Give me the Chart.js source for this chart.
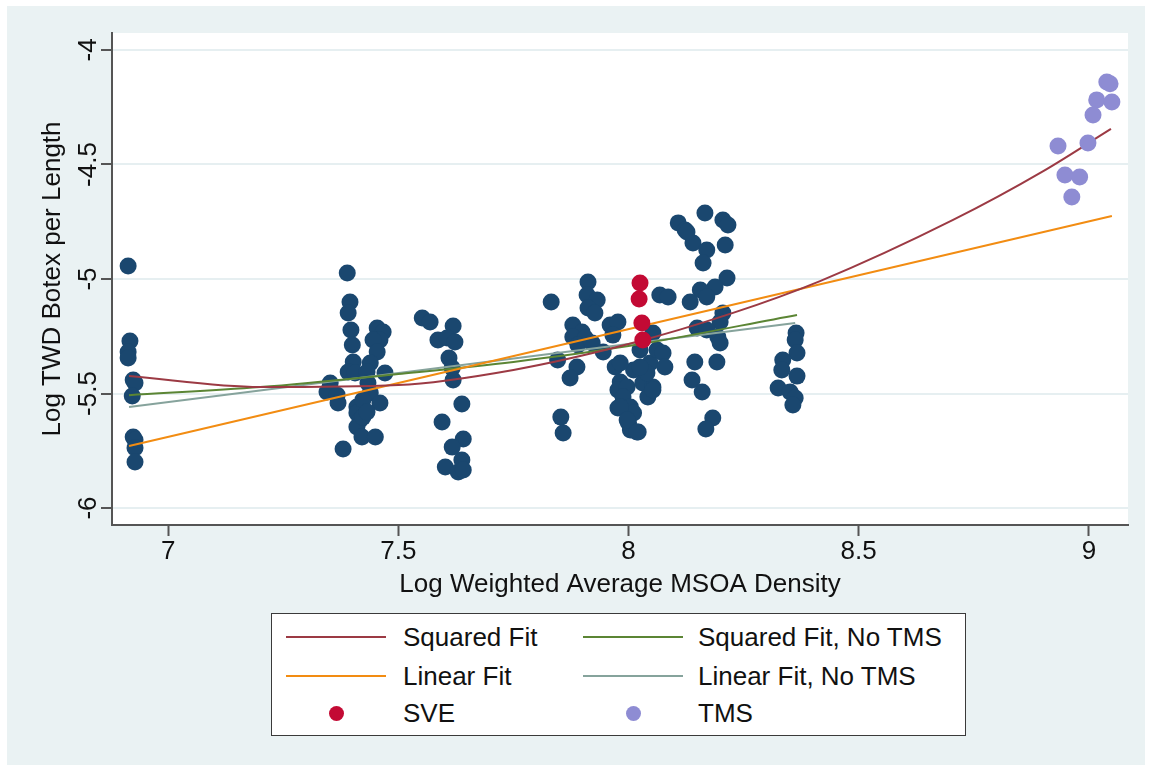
<!DOCTYPE html>
<html><head><meta charset="utf-8">
<script src="https://cdn.jsdelivr.net/npm/chart.js@4.4.1/dist/chart.umd.min.js"></script>
<style>
html,body{margin:0;padding:0;background:#fff;}
#wrap{position:relative;width:1149px;height:771px;overflow:hidden;}
#frame{position:absolute;left:7px;top:6px;width:1138px;height:759px;background:#eaf2f3;}
#c{position:absolute;left:0;top:0;}
#legend{position:absolute;left:271px;top:613px;width:693px;height:121px;border:1.5px solid #3a3a3a;background:#fff;font-family:"Liberation Sans",Arial,sans-serif;font-size:26px;color:#111;}
.lline{position:absolute;height:0;border-top:2px solid #000;}
.ldot{position:absolute;width:15px;height:15px;border-radius:50%;}
.ltxt{position:absolute;line-height:30px;white-space:nowrap;}
</style>
</head><body>
<div id="wrap"><div id="frame"></div><canvas id="c" width="1149" height="771"></canvas><div id="legend"></div></div>
<script>
// ---- data ----
const xTicks = [7, 7.5, 8, 8.5, 9];
const yTicks = [-6, -5.5, -5, -4.5, -4];

const mainX = [6.913,6.917,6.913,6.913,6.924,6.928,6.922,6.924,6.928,6.928,6.928,
7.389,7.395,7.391,7.397,7.400,7.402,7.391,7.406,7.352,7.345,7.367,7.369,7.410,7.410,7.417,7.410,7.423,7.421,7.450,7.380,7.454,7.467,7.460,7.445,7.454,7.439,7.432,7.434,7.439,7.423,7.460,7.471,7.432,
7.552,7.569,7.619,7.586,7.606,7.623,7.610,7.617,7.619,7.638,7.595,7.641,7.617,7.638,7.602,7.630,7.641,
7.832,7.912,7.910,7.932,7.912,7.927,7.879,7.899,7.879,7.906,7.890,7.921,7.960,7.977,7.966,7.945,7.846,7.888,7.873,7.971,7.982,7.977,7.997,7.988,8.004,7.977,8.011,8.000,8.021,8.004,7.853,7.858,8.011,8.031,8.053,8.047,8.062,8.053,8.025,8.042,8.040,
8.108,8.123,8.166,8.205,8.216,8.140,8.170,8.210,8.162,8.214,8.188,8.156,8.170,8.134,8.068,8.086,8.205,8.199,8.194,8.149,8.170,8.192,8.144,8.138,8.160,8.183,8.168,8.075,8.079,8.053,8.025,7.982,7.982,7.997,8.018,8.127,8.199,
8.364,8.362,8.366,8.335,8.333,8.366,8.325,8.351,8.362,8.357];
const mainY = [-4.943,-5.271,-5.319,-5.345,-5.441,-5.454,-5.511,-5.690,-5.703,-5.738,-5.799,
-4.974,-5.100,-5.148,-5.223,-5.288,-5.362,-5.406,-5.410,-5.454,-5.493,-5.507,-5.541,-5.559,-5.585,-5.616,-5.646,-5.603,-5.690,-5.690,-5.742,-5.214,-5.231,-5.266,-5.266,-5.319,-5.367,-5.406,-5.454,-5.498,-5.528,-5.541,-5.410,-5.581,
-5.170,-5.188,-5.205,-5.266,-5.258,-5.275,-5.345,-5.389,-5.441,-5.546,-5.624,-5.699,-5.734,-5.790,-5.821,-5.843,-5.834,
-5.100,-5.013,-5.070,-5.092,-5.127,-5.148,-5.201,-5.231,-5.253,-5.258,-5.288,-5.279,-5.201,-5.188,-5.245,-5.319,-5.354,-5.384,-5.432,-5.384,-5.450,-5.485,-5.472,-5.515,-5.559,-5.563,-5.585,-5.629,-5.668,-5.659,-5.603,-5.672,-5.397,-5.454,-5.472,-5.367,-5.310,-5.236,-5.310,-5.515,-5.410,
-4.755,-4.786,-4.712,-4.742,-4.764,-4.843,-4.873,-4.852,-4.930,-4.996,-5.035,-5.048,-5.079,-5.100,-5.070,-5.079,-5.148,-5.188,-5.253,-5.214,-5.223,-5.362,-5.362,-5.441,-5.493,-5.607,-5.655,-5.323,-5.384,-5.485,-5.384,-5.367,-5.559,-5.616,-5.668,-4.795,-5.279,
-5.236,-5.266,-5.323,-5.354,-5.397,-5.424,-5.476,-5.493,-5.520,-5.550];

const sveX = [8.025, 8.023, 8.029, 8.031];
const sveY = [-5.017, -5.087, -5.192, -5.266];

const tmsX = [9.039, 9.046, 9.017, 9.050, 9.009, 8.933, 8.998, 8.948, 8.980, 8.963];
const tmsY = [-4.140, -4.148, -4.218, -4.227, -4.284, -4.419, -4.406, -4.546, -4.555, -4.642];

const sqFitX = [6.915, 7.2, 7.5, 7.75, 8.0, 8.227, 8.416, 8.705, 8.9, 9.048];
const sqFitY = [-5.424, -5.472, -5.463, -5.397, -5.284, -5.148, -5.009, -4.742, -4.53, -4.345];
const linFitX = [6.915, 9.05];
const linFitY = [-5.729, -4.725];
const sqNoX = [6.915, 7.2, 7.5, 7.75, 8.0, 8.366];
const sqNoY = [-5.507, -5.472, -5.415, -5.362, -5.293, -5.157];
const linNoX = [6.915, 8.362];
const linNoY = [-5.559, -5.192];

// ---- build chart ----
const pts = (xs, ys) => xs.map((x, i) => ({x: x, y: ys[i]}));
const FONT = '"Liberation Sans", Arial, sans-serif';
const C = {navy:'#1a476f', sve:'#c30a34', tms:'#8e8cd3', sq:'#9c3a44', lin:'#f28c12', sqNo:'#5b8534', linNo:'#86a39c'};

const lineDs = (label, xs, ys, color) => ({type:'line', label, order: 1, data: pts(xs, ys), borderColor: color, backgroundColor: color,
  borderWidth: 2, pointRadius: 0, fill: false, cubicInterpolationMode: 'monotone', showLine: true});

const datasets = [
  lineDs('Squared Fit', sqFitX, sqFitY, C.sq),
  lineDs('Linear Fit', linFitX, linFitY, C.lin),
  lineDs('Squared Fit, No TMS', sqNoX, sqNoY, C.sqNo),
  lineDs('Linear Fit, No TMS', linNoX, linNoY, C.linNo),
  {label:'SVE', order: 0, data: pts(sveX, sveY), backgroundColor: C.sve, borderWidth: 0, pointRadius: 8.5},
  {label:'TMS', order: 0, data: pts(tmsX, tmsY), backgroundColor: C.tms, borderWidth: 0, pointRadius: 8.5},
  {label:'Data', order: 2, data: pts(mainX, mainY), backgroundColor: C.navy, borderWidth: 0, pointRadius: 8.5}
];

const bgPlugin = {
  id: 'bg',
  beforeDraw(chart) {
    const a = chart.chartArea, ctx = chart.ctx;
    ctx.save(); ctx.fillStyle = '#ffffff';
    ctx.fillRect(a.left, a.top, a.right - a.left, a.bottom - a.top);
    ctx.restore();
  }
};
const yLabelPlugin = {
  id: 'yLabels',
  afterDraw(chart) {
    const s = chart.scales.y, ctx = chart.ctx;
    ctx.save();
    ctx.font = '26px ' + FONT; ctx.fillStyle = '#111';
    ctx.textAlign = 'center'; ctx.textBaseline = 'middle';
    yTicks.forEach(v => {
      const py = s.getPixelForValue(v);
      ctx.save(); ctx.translate(s.right - 23, py); ctx.rotate(-Math.PI / 2);
      ctx.fillText(String(v), 0, 0); ctx.restore();
    });
    ctx.restore();
  }
};

new Chart(document.getElementById('c'), {
  type: 'scatter',
  data: {datasets},
  options: {
    responsive: false, animation: false,
    layout: {padding: {left: 0, top: 33, right: 21, bottom: 146}},
    plugins: {legend: {display: false}, tooltip: {enabled: false}},
    scales: {
      x: {
        type: 'linear', min: 6.878, max: 9.085,
        afterBuildTicks: s => { s.ticks = xTicks.map(v => ({value: v})); },
        afterFit: s => { s.height = 100; },
        grid: {drawOnChartArea: false, tickLength: 11, tickWidth: 2, tickColor: '#555'},
        border: {color: '#555', width: 2},
        ticks: {padding: 0, color: '#111', font: {family: FONT, size: 26}, callback: v => String(v), maxRotation: 0},
        title: {display: true, text: 'Log Weighted Average MSOA Density', color: '#111',
          font: {family: FONT, size: 26, lineHeight: 1.2}, padding: {top: 0, bottom: 25}}
      },
      y: {
        type: 'linear', min: -6.074, max: -3.926,
        afterBuildTicks: s => { s.ticks = yTicks.map(v => ({value: v})); },
        afterFit: s => { s.width = 112; },
        grid: {color: '#e6eff1', lineWidth: 2, tickLength: 11, tickWidth: 2, tickColor: '#555'},
        border: {color: '#555', width: 2},
        ticks: {display: false},
        title: {display: true, text: 'Log TWD Botex per Length', color: '#111',
          font: {family: FONT, size: 26, lineHeight: 1.2}, padding: {top: 37, bottom: 0}}
      }
    }
  },
  plugins: [bgPlugin, yLabelPlugin]
});

// ---- legend (HTML, built from datasets) ----
const legendOrder = ['Squared Fit', 'Squared Fit, No TMS', 'Linear Fit', 'Linear Fit, No TMS', 'SVE', 'TMS'];
const rowCenters = [23, 62, 99];
const colLine = [14, 311];
const colText = [131, 426];
const lg = document.getElementById('legend');
legendOrder.forEach((name, i) => {
  const ds = datasets.find(d => d.label === name);
  const r = Math.floor(i / 2), c = i % 2, cy = rowCenters[r];
  if (ds.type === 'line') {
    const el = document.createElement('div'); el.className = 'lline';
    el.style.left = colLine[c] + 'px'; el.style.top = (cy - 1) + 'px'; el.style.width = '100px';
    el.style.borderTopColor = ds.borderColor; lg.appendChild(el);
  } else {
    const el = document.createElement('div'); el.className = 'ldot';
    el.style.left = (colLine[c] + 50 - 7.5) + 'px'; el.style.top = (cy - 7.5) + 'px';
    el.style.background = ds.backgroundColor; lg.appendChild(el);
  }
  const t = document.createElement('div'); t.className = 'ltxt';
  t.style.left = colText[c] + 'px'; t.style.top = (cy - 15) + 'px'; t.textContent = name;
  lg.appendChild(t);
});
</script>
</body></html>
